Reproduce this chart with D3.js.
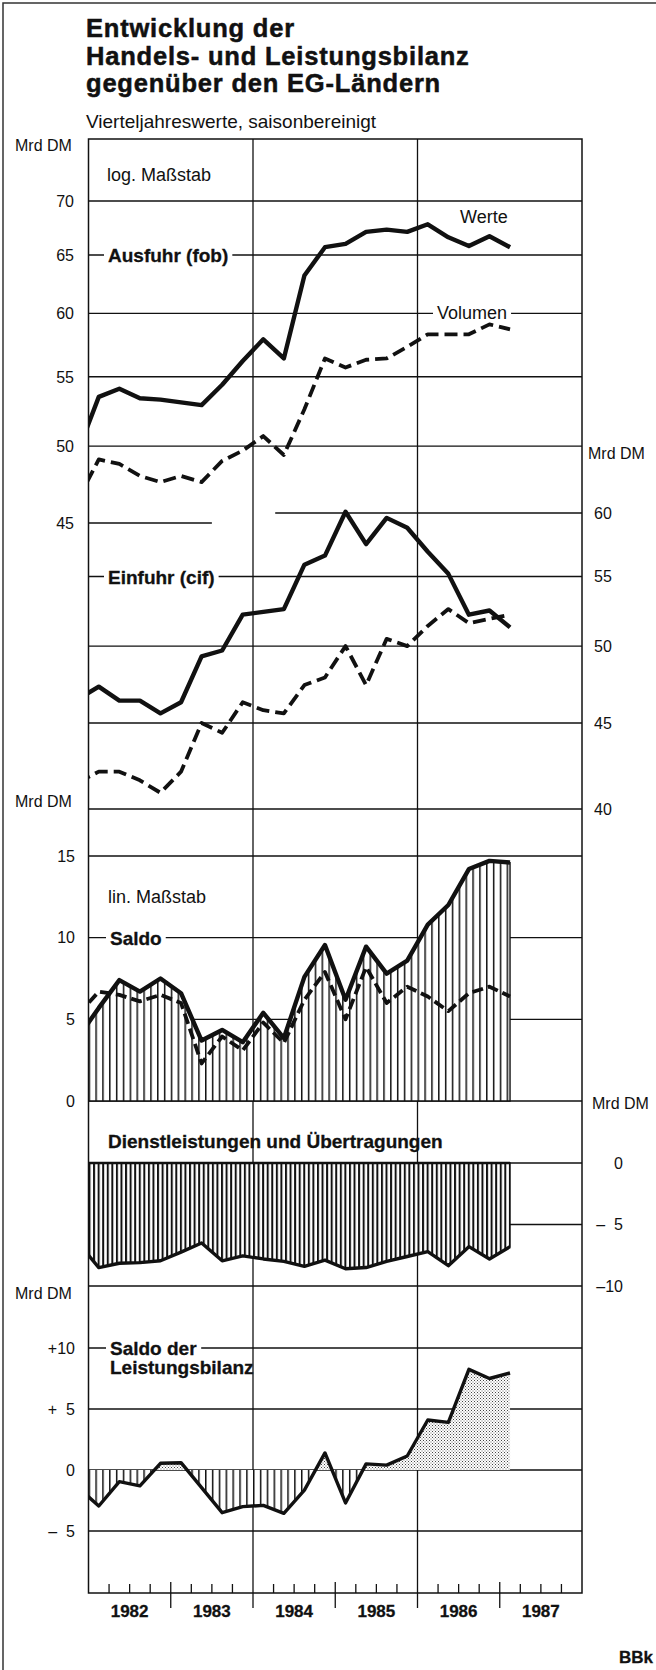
<!DOCTYPE html>
<html lang="de">
<head>
<meta charset="utf-8">
<title>Entwicklung der Handels- und Leistungsbilanz gegenüber den EG-Ländern</title>
<script src="https://d3js.org/d3.v7.min.js"></script>
<style>
  html, body { margin: 0; padding: 0; background: #fff; }
  svg { display: block; }
  text { font-family: "Liberation Sans", Arial, Helvetica, sans-serif; fill: #111; }
  .title { font-size: 25.5px; font-weight: bold; letter-spacing: 0.8px; stroke: #111; stroke-width: 0.5px; }
  .sub { font-size: 19px; }
  .tick { font-size: 16px; }
  .unit { font-size: 16px; }
  .note { font-size: 18px; }
  .lab { font-size: 19px; font-weight: bold; stroke: #111; stroke-width: 0.3px; }
  .year { font-size: 17px; font-weight: bold; stroke: #111; stroke-width: 0.3px; }
</style>
</head>
<body>
<div id="chart"></div>
<script>
"use strict";

// quarterly values, 1981 Q4 (only the clipped start of the lines) to 1987 Q1
var quarters = ["1981-4",
  "1982-1", "1982-2", "1982-3", "1982-4",
  "1983-1", "1983-2", "1983-3", "1983-4",
  "1984-1", "1984-2", "1984-3", "1984-4",
  "1985-1", "1985-2", "1985-3", "1985-4",
  "1986-1", "1986-2", "1986-3", "1986-4",
  "1987-1"];

var exportValue = [49.7, 53.5, 54.1, 53.4, 53.3, 53.1, 52.9, 54.4, 56.2, 57.9, 56.4, 63.2,
  65.7, 66.0, 67.1, 67.3, 67.1, 67.8, 66.6, 65.8, 66.7, 65.7];
var exportVolume = [46.5, 49.1, 48.8, 48.0, 47.6, 48.0, 47.6, 49.0, 49.7, 50.7, 49.4, 52.6,
  56.4, 55.7, 56.3, 56.4, 57.3, 58.3, 58.3, 58.3, 59.1, 58.7];
var importValue = [46.5, 47.3, 46.4, 46.4, 45.6, 46.3, 49.3, 49.7, 52.2, 52.4, 52.6, 55.9,
  56.6, 60.1, 57.5, 59.6, 58.8, 56.9, 55.2, 52.2, 52.5, 51.3];
var importVolume = [41.5, 42.1, 42.1, 41.6, 40.9, 42.1, 45.0, 44.4, 46.3, 45.8, 45.6, 47.4,
  47.9, 50.0, 47.4, 50.5, 50.0, 51.4, 52.6, 51.6, 51.9, 52.2];
var tradeBalance = [3.9, 5.7, 7.4, 6.7, 7.5, 6.6, 3.7, 4.35, 3.6, 5.4, 3.85, 7.6,
  9.55, 6.2, 9.45, 7.8, 8.6, 10.8, 12.0, 14.2, 14.7, 14.6];
var tradeBalanceVolume = [5.3, 6.7, 6.5, 6.1, 6.5, 6.0, 2.3, 3.95, 3.1, 4.8, 3.55, 6.2,
  7.9, 5.0, 8.2, 6.0, 7.0, 6.4, 5.5, 6.6, 7.0, 6.4];
var services = [-6.5, -8.5, -8.15, -8.1, -7.95, -7.25, -6.5, -7.95, -7.55, -7.8, -8.0, -8.4,
  -7.9, -8.6, -8.5, -8.0, -7.6, -7.2, -8.35, -6.8, -7.8, -6.8];
var currentAccount = [-1.45, -2.95, -0.95, -1.3, 0.55, 0.6, -1.45, -3.5, -3.0, -2.9, -3.55, -1.65,
  1.4, -2.7, 0.5, 0.4, 1.15, 4.1, 3.9, 8.25, 7.5, 7.95];

var years = [1982, 1983, 1984, 1985, 1986, 1987];
var exportTicks = [70, 65, 60, 55, 50, 45];
var importTicks = [60, 55, 50, 45, 40];
var balanceTicks = [15, 10, 5, 0];
var servicesTicks = [0, -5, -10];
var currentTicks = [10, 5, 0, -5];

var W = 656, H = 1670;
var frame = { left: 88.5, right: 582, top: 139, bottom: 1593 };

var time = quarters.map(function(q) {
  var p = q.split("-");
  return +p[0] + (+p[1] - 0.5) / 4;
});

var x = d3.scaleLinear().domain([1982, 1988]).range([frame.left, frame.right]);
var yExport = d3.scaleLog().domain([70, 45]).range([201, 523]);
var yImport = d3.scaleLog().domain([60, 40]).range([513, 809]);
var yBalance = d3.scaleLinear().domain([15, 0]).range([856, 1101]);
var yServices = d3.scaleLinear().domain([0, -10]).range([1163, 1286]);
var yCurrent = d3.scaleLinear().domain([10, -5]).range([1348, 1531]);

var svg = d3.select("#chart").append("svg")
  .attr("width", W)
  .attr("height", H)
  .attr("viewBox", "0 0 " + W + " " + H);

var defs = svg.append("defs");
defs.append("clipPath").attr("id", "clipFrame")
  .append("rect")
    .attr("x", frame.left).attr("y", frame.top)
    .attr("width", frame.right - frame.left).attr("height", frame.bottom - frame.top);
defs.append("clipPath").attr("id", "clipPos")
  .append("rect")
    .attr("x", frame.left).attr("y", frame.top)
    .attr("width", frame.right - frame.left).attr("height", yCurrent(0) - frame.top);
defs.append("clipPath").attr("id", "clipNeg")
  .append("rect")
    .attr("x", frame.left).attr("y", yCurrent(0))
    .attr("width", frame.right - frame.left).attr("height", frame.bottom - yCurrent(0));

// vertical hatching: 12 strokes a year for the balances, 18 for services
function hatchPattern(id, perYear, stroke) {
  var step = (x(1983) - x(1982)) / perYear;
  var p = defs.append("pattern")
    .attr("id", id)
    .attr("patternUnits", "userSpaceOnUse")
    .attr("x", x(1982)).attr("y", 0)
    .attr("width", step).attr("height", 10);
  p.append("rect").attr("width", step).attr("height", 10).attr("fill", "#fff");
  p.append("rect").attr("width", stroke).attr("height", 10).attr("fill", "#111");
}
hatchPattern("hatch", 12, 1.5);
hatchPattern("hatchDark", 18, 2);

var dots = defs.append("pattern")
  .attr("id", "dots")
  .attr("patternUnits", "userSpaceOnUse")
  .attr("width", 3).attr("height", 3);
dots.append("rect").attr("width", 3).attr("height", 3).attr("fill", "#fff");
dots.append("rect").attr("width", 1).attr("height", 1).attr("fill", "#444");
dots.append("rect").attr("x", 1.5).attr("y", 1.5).attr("width", 1).attr("height", 1).attr("fill", "#666");

// page border
svg.append("path")
  .attr("d", "M3," + H + "V3H" + W)
  .attr("fill", "none")
  .attr("stroke", "#333")
  .attr("stroke-width", 1.5);

// title
var titleLines = ["Entwicklung der", "Handels- und Leistungsbilanz", "gegenüber den EG-Ländern"];
svg.selectAll("text.title")
  .data(titleLines)
  .enter().append("text")
    .attr("class", "title")
    .attr("x", 86)
    .attr("y", function(d, i) { return 37 + i * 27.5; })
    .text(function(d) { return d; });
svg.append("text").attr("class", "sub").attr("x", 86).attr("y", 128)
  .text("Vierteljahreswerte, saisonbereinigt");

// grid
var grid = svg.append("g").attr("stroke", "#111").attr("stroke-width", 1.3);
function hLines(scale, ticks, extents) {
  ticks.forEach(function(v) {
    var ext = (extents && extents[v]) || [1982, 1988];
    grid.append("line")
      .attr("x1", x(ext[0])).attr("x2", x(ext[1]))
      .attr("y1", scale(v)).attr("y2", scale(v));
  });
}
hLines(yExport, exportTicks, { 45: [1982, 1983.5] });
hLines(yImport, importTicks, { 60: [1984.27, 1988] });
hLines(yBalance, balanceTicks);
hLines(yServices, servicesTicks);
hLines(yCurrent, currentTicks);
[1984, 1986].forEach(function(yr) {
  grid.append("line")
    .attr("x1", x(yr)).attr("x2", x(yr))
    .attr("y1", frame.top).attr("y2", frame.bottom + 15);
});

// labels; a white box cuts the gridline behind the text
function label(str, lx, ly, cls, cut) {
  var g = svg.append("g");
  var t = g.append("text").attr("class", cls).attr("x", lx).attr("y", ly).text(str);
  if (cut) {
    var b = t.node().getBBox();
    g.insert("rect", "text")
      .attr("x", b.x - 4).attr("y", b.y)
      .attr("width", b.width + 8).attr("height", b.height)
      .attr("fill", "#fff");
  }
  return t;
}
label("log. Maßstab", 107, 181, "note");
label("Werte", 460, 223, "note");
label("Volumen", 437, yExport(60) + 6, "note", true);
label("Ausfuhr (fob)", 108, yExport(65) + 7, "lab", true);
label("Einfuhr (cif)", 108, yImport(55) + 7, "lab", true);
label("lin. Maßstab", 108, 903, "note");
label("Saldo", 110, yBalance(10) + 7, "lab", true);
label("Dienstleistungen und Übertragungen", 108, 1148, "lab");
label("Saldo der", 110, yCurrent(10) + 7, "lab", true);
label("Leistungsbilanz", 110, 1374, "lab");

// areas
var plot = svg.append("g").attr("clip-path", "url(#clipFrame)");
function areaPath(values, scale) {
  return d3.area()
    .x(function(d, i) { return x(time[i]); })
    .y0(scale(0))
    .y1(function(d) { return scale(d); })(values);
}
function linePath(values, scale) {
  return d3.line()
    .x(function(d, i) { return x(time[i]); })
    .y(function(d) { return scale(d); })(values);
}
plot.append("path")
  .attr("d", areaPath(tradeBalance, yBalance))
  .attr("fill", "url(#hatch)")
  .attr("stroke", "#111").attr("stroke-width", 1.4);
plot.append("path")
  .attr("d", areaPath(services, yServices))
  .attr("fill", "url(#hatchDark)")
  .attr("stroke", "#111").attr("stroke-width", 1.4);
plot.append("g").attr("clip-path", "url(#clipNeg)")
  .append("path")
    .attr("d", areaPath(currentAccount, yCurrent))
    .attr("fill", "url(#hatch)");
plot.append("g").attr("clip-path", "url(#clipPos)")
  .append("path")
    .attr("d", areaPath(currentAccount, yCurrent))
    .attr("fill", "url(#dots)");

// frame
svg.append("rect")
  .attr("x", frame.left).attr("y", frame.top)
  .attr("width", frame.right - frame.left).attr("height", frame.bottom - frame.top)
  .attr("fill", "none").attr("stroke", "#111").attr("stroke-width", 1.5);

// lines
var series = [
  { values: exportValue, scale: yExport, width: 4.4 },
  { values: exportVolume, scale: yExport, width: 3.8, dash: "13,6" },
  { values: importValue, scale: yImport, width: 4.4 },
  { values: importVolume, scale: yImport, width: 3.8, dash: "13,6" },
  { values: tradeBalance, scale: yBalance, width: 4.4 },
  { values: tradeBalanceVolume, scale: yBalance, width: 3.8, dash: "11,5" },
  { values: services, scale: yServices, width: 3.4 },
  { values: services.map(function() { return 0; }), scale: yServices, width: 2.4 },
  { values: currentAccount, scale: yCurrent, width: 3.4 }
];
plot.selectAll("path.series")
  .data(series)
  .enter().append("path")
    .attr("class", "series")
    .attr("d", function(d) { return linePath(d.values, d.scale); })
    .attr("fill", "none")
    .attr("stroke", "#111")
    .attr("stroke-width", function(d) { return d.width; })
    .attr("stroke-dasharray", function(d) { return d.dash || null; })
    .attr("stroke-linejoin", "round");

// y axis labels
function dash(v) { return "\u2013" + (Math.abs(v) < 10 ? "\u2007" : "") + Math.abs(v); }
function signed(v) {
  if (v > 0) return "+" + (v < 10 ? "\u2007" : "") + v;
  if (v < 0) return dash(v);
  return "0";
}
function yLabels(scale, ticks, lx, anchor, fmt) {
  svg.append("g").selectAll("text")
    .data(ticks)
    .enter().append("text")
      .attr("class", "tick")
      .attr("x", lx)
      .attr("y", function(d) { return scale(d); })
      .attr("dy", "0.36em")
      .attr("text-anchor", anchor)
      .text(fmt);
}
yLabels(yExport, exportTicks, 74, "end", String);
yLabels(yImport, importTicks, 594, "start", String);
yLabels(yBalance, balanceTicks, 75, "end", String);
yLabels(yServices, servicesTicks, 623, "end", function(d) { return d === 0 ? "0" : dash(d); });
yLabels(yCurrent, currentTicks, 75, "end", signed);

label("Mrd DM", 15, 151, "unit");
label("Mrd DM", 588, 459, "unit");
label("Mrd DM", 15, 807, "unit");
label("Mrd DM", 592, 1109, "unit");
label("Mrd DM", 15, 1299, "unit");

// time axis
var axis = svg.append("g").attr("stroke", "#111").attr("stroke-width", 1.3);
years.forEach(function(yr) {
  [0.25, 0.5, 0.75].forEach(function(q) {
    axis.append("line")
      .attr("x1", x(yr + q)).attr("x2", x(yr + q))
      .attr("y1", frame.bottom).attr("y2", frame.bottom - 9);
  });
});
[1983, 1985, 1987].forEach(function(yr) {
  axis.append("line")
    .attr("x1", x(yr)).attr("x2", x(yr))
    .attr("y1", frame.bottom - 11).attr("y2", frame.bottom + 15);
});
svg.append("g").selectAll("text")
  .data(years)
  .enter().append("text")
    .attr("class", "year")
    .attr("x", function(d) { return x(d + 0.5); })
    .attr("y", 1617)
    .attr("text-anchor", "middle")
    .text(function(d) { return d; });

label("BBk", 653, 1663, "year").attr("text-anchor", "end");
</script>
</body>
</html>
